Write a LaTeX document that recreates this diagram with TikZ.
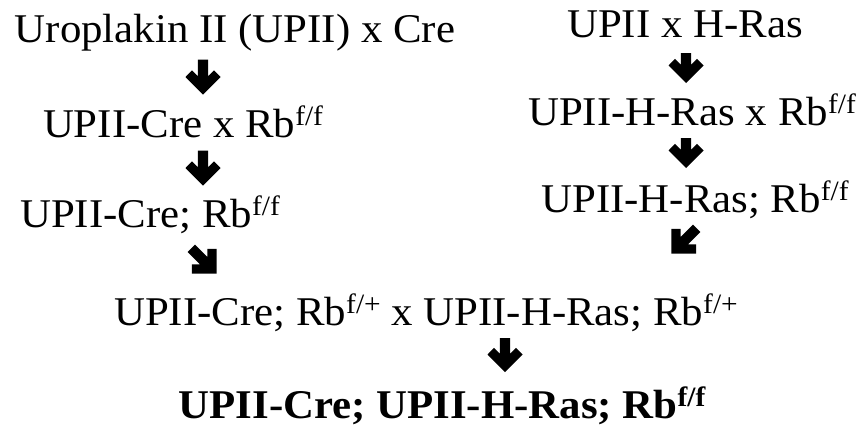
\documentclass[tikz,border=0pt]{standalone}
\usepackage{fontspec}
\setmainfont[FakeStretch=1.05]{Liberation Serif}
\newcommand\supx[1]{\raisebox{11.5pt}{\fontsize{28}{28}\selectfont #1}}
\tikzset{
  lbl/.style={anchor=base, inner sep=0pt, outer sep=0pt, font=\fontsize{40.8}{48}\selectfont},
  pics/barrow/.style={code={
    \fill[black] (-5.2,{-#1/2}) -- (5.2,{-#1/2}) -- (5.2,{#1/2-18.3}) -- (11,{#1/2-24.1})
      -- (17.5,{#1/2-17.5}) -- (0,{#1/2}) -- (-17.5,{#1/2-17.5}) -- (-11,{#1/2-24.1})
      -- (-5.2,{#1/2-18.3}) -- cycle;
  }}
}
\begin{document}
\begin{tikzpicture}[x=1pt,y=-1pt]
\useasboundingbox[fill=white] (0,0) rectangle (859,426);
% left column
\node[lbl] (l1) at (235,42) {Uroplakin II (UPII) x Cre};
\node[lbl] (l2) at (183,137) {UPII-Cre x Rb\supx{f/f}};
\node[lbl] (l3) at (150,227) {UPII-Cre; Rb\supx{f/f}};
% right column
\node[lbl] (r1) at (685,37) {UPII x H-Ras};
\node[lbl] (r2) at (692,125) {UPII-H-Ras x Rb\supx{f/f}};
\node[lbl] (r3) at (695,212) {UPII-H-Ras; Rb\supx{f/f}};
% merge
\node[lbl] (m) at (426,325) {UPII-Cre; Rb\supx{f/+} x UPII-H-Ras; Rb\supx{f/+}};
\node[lbl, font=\fontsize{40.8}{48}\selectfont\bfseries] (res) at (442,418) {UPII-Cre; UPII-H-Ras; Rb\supx{f/f}};
% arrows
\coordinate (a1) at (203,77);
\coordinate (a2) at (203,168);
\coordinate (a3) at (204,261);
\coordinate (b1) at (686,68);
\coordinate (b2) at (686,153);
\coordinate (b3) at (684,241);
\coordinate (c1) at (505,355);
\pic at (a1) {barrow=35};
\pic at (a2) {barrow=35};
\pic[rotate=45] at (a3) {barrow=36};
\pic at (b1) {barrow=30};
\pic at (b2) {barrow=30};
\pic[rotate=-45] at (b3) {barrow=36};
\pic at (c1) {barrow=34};
\end{tikzpicture}
\end{document}
